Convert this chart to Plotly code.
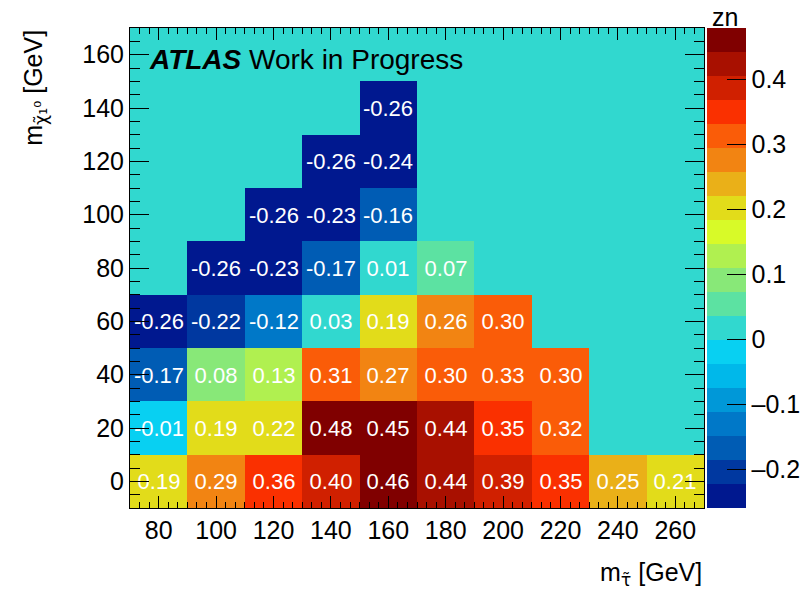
import plotly.graph_objects as go

# ---- data ----
m_stau = [80, 100, 120, 140, 160, 180, 200, 220, 240, 260]
m_chi = [0, 20, 40, 60, 80, 100, 120, 140, 160]
zn = [
    [0.19, 0.29, 0.36, 0.40, 0.46, 0.44, 0.39, 0.35, 0.25, 0.21],      # 0
    [-0.01, 0.19, 0.22, 0.48, 0.45, 0.44, 0.35, 0.32, None, None],     # 20
    [-0.17, 0.08, 0.13, 0.31, 0.27, 0.30, 0.33, 0.30, None, None],     # 40
    [-0.26, -0.22, -0.12, 0.03, 0.19, 0.26, 0.30, None, None, None],   # 60
    [None, -0.26, -0.23, -0.17, 0.01, 0.07, None, None, None, None],   # 80
    [None, None, -0.26, -0.23, -0.16, None, None, None, None, None],   # 100
    [None, None, None, -0.26, -0.24, None, None, None, None, None],    # 120
    [None, None, None, None, -0.26, None, None, None, None, None],     # 140
    [None] * 10,                                                       # 160
]
cbar_tickvals = [-0.2, -0.1, 0, 0.1, 0.2, 0.3, 0.4]
cbar_ticktext = ["\u20130.2", "\u20130.1", "0", "0.1", "0.2", "0.3", "0.4"]

# ---- style ----
band_colors = [
    "#00188f", "#0038a0", "#005cb4", "#0078c8", "#0098d8",
    "#00b8ea", "#08d0f2", "#31d8cf", "#5ce2a2", "#88e878",
    "#b0f050", "#d8fa28", "#e2dc1a", "#eab018", "#f28412",
    "#fa5c08", "#fa3000", "#d02000", "#a81000", "#800000",
]
n = len(band_colors)
colorscale = []
for i, c in enumerate(band_colors):
    colorscale.append([i / n, c])
    colorscale.append([(i + 1) / n, c])

text = [["" if v is None else f"{v:.2f}" for v in row] for row in zn]

FONT = "Liberation Sans, Arial, Helvetica, sans-serif"

fig = go.Figure(
    go.Heatmap(
        x=m_stau,
        y=m_chi,
        z=zn,
        text=text,
        texttemplate="%{text}",
        textfont=dict(color="white", size=22, family=FONT),
        colorscale=colorscale,
        zmin=-0.259,
        zmax=0.4795,
        xgap=0,
        ygap=0,
        hoverongaps=False,
        colorbar=dict(
            x=1.0052,
            xanchor="left",
            xpad=0,
            y=0.5,
            yanchor="middle",
            ypad=0,
            len=1,
            lenmode="fraction",
            thickness=39,
            outlinewidth=0,
            ticks="inside",
            ticklen=19,
            tickwidth=1.2,
            tickcolor="black",
            tickvals=cbar_tickvals,
            ticktext=cbar_ticktext,
            tickfont=dict(size=25, family=FONT, color="black"),
        ),
    )
)

fig.update_layout(
    width=803,
    height=596,
    margin=dict(l=130, r=99, t=28, b=88, autoexpand=False),
    paper_bgcolor="white",
    plot_bgcolor="#31d8cf",
    font=dict(family=FONT, color="black"),
    showlegend=False,
)

fig.update_xaxes(
    range=[70, 270],
    tick0=80,
    dtick=20,
    ticks="inside",
    ticklen=12,
    tickcolor="black",
    showgrid=False,
    zeroline=False,
    showline=True,
    linecolor="black",
    linewidth=1,
    mirror="allticks",
    tickfont=dict(size=25, family=FONT, color="black"),
    minor=dict(tick0=70, dtick=10 / 3, ticks="inside", ticklen=6, tickcolor="black", showgrid=False),
)
fig.update_yaxes(
    range=[-10, 170],
    tick0=0,
    dtick=20,
    ticks="inside",
    ticklen=19,
    tickcolor="black",
    showgrid=False,
    zeroline=False,
    showline=True,
    linecolor="black",
    linewidth=1,
    mirror="allticks",
    tickfont=dict(size=25, family=FONT, color="black"),
    minor=dict(tick0=0, dtick=5, ticks="inside", ticklen=10, tickcolor="black", showgrid=False),
)

DJ = "font-family:'DejaVu Sans'"
annotations = [
    dict(
        text="<b><i>ATLAS</i></b> Work in Progress",
        x=0.03, y=0.934, xref="paper", yref="paper",
        xanchor="left", yanchor="middle", showarrow=False,
        font=dict(size=28, family=FONT, color="black"),
    ),
    dict(
        text=f"m<sub><span style=\"{DJ}\">\u03c4\u0303</span></sub> [GeV]",
        x=1.0, y=-0.138, xref="paper", yref="paper",
        xanchor="right", yanchor="middle", showarrow=False,
        font=dict(size=25, family=FONT, color="black"),
    ),
    dict(
        text=f"m<sub><span style=\"{DJ}\">\u03c7\u0303\u2081\u2070</span></sub> [GeV]",
        x=-0.166, y=1.0, xref="paper", yref="paper",
        xanchor="center", yanchor="top", textangle=-90, showarrow=False,
        font=dict(size=25, family=FONT, color="black"),
    ),
    dict(
        text="zn",
        x=1.0366, y=1.022, xref="paper", yref="paper",
        xanchor="center", yanchor="middle", showarrow=False,
        font=dict(size=25, family=FONT, color="black"),
    ),
]
fig.update_layout(annotations=annotations)

fig.write_html("out.html")
